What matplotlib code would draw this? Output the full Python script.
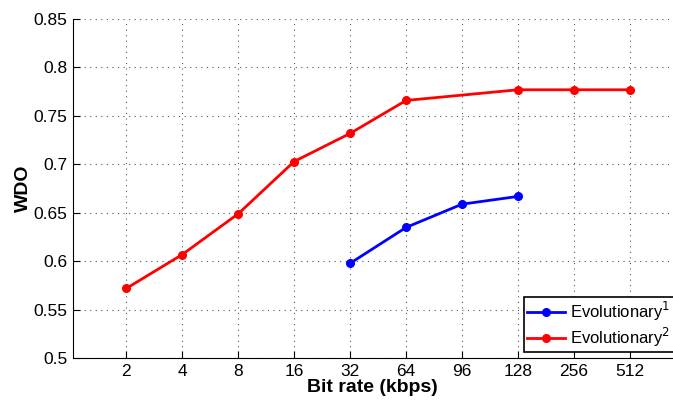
import numpy as np
import matplotlib.pyplot as plt

plt.rcParams['font.family'] = ['Liberation Sans', 'DejaVu Sans']

rates = ['2', '4', '8', '16', '32', '64', '96', '128', '256', '512']

evo1_rates = ['32', '64', '96', '128']
evo1_wdo = [0.598, 0.635, 0.659, 0.667]

evo2_rates = ['2', '4', '8', '16', '32', '64', '128', '256', '512']
evo2_wdo = [0.572, 0.607, 0.649, 0.703, 0.732, 0.766, 0.777, 0.777, 0.777]


def main():
    fig = plt.figure(figsize=(6.73, 4.01), dpi=100)
    ax = fig.add_axes([0.1085, 0.1065, 0.8900, 0.8461])

    pos = {r: i + 1 for i, r in enumerate(rates)}
    x1 = [pos[r] for r in evo1_rates]
    x2 = [pos[r] for r in evo2_rates]

    ax.plot(x1, evo1_wdo, '-o', color='#0000ff', lw=2, ms=5.5, label='Evolutionary$^1$')
    ax.plot(x2, evo2_wdo, '-o', color='#ff0000', lw=2, ms=5.5, label='Evolutionary$^2$')

    ax.set_xlim(0.05, 10.75)
    ax.set_ylim(0.5, 0.85)
    ax.set_xticks(range(1, len(rates) + 1))
    ax.set_xticklabels(rates)
    ax.set_yticks(np.arange(0.5, 0.851, 0.05))
    ax.set_yticklabels(['0.5', '0.55', '0.6', '0.65', '0.7', '0.75', '0.8', '0.85'])
    ax.tick_params(direction='in', labelsize=12.5, length=5, width=0.8, pad=4)

    ax.grid(True, linestyle=(0, (1, 4)), color='#555555', lw=0.8)
    ax.spines['top'].set_visible(False)
    ax.spines['right'].set_visible(False)

    ax.set_xlabel('Bit rate (kbps)', fontsize=14, fontweight='bold', labelpad=0)
    ax.set_ylabel('WDO', fontsize=14, fontweight='bold', labelpad=1)

    leg = ax.legend(loc='lower right', bbox_to_anchor=(1.003, 0.018), fontsize=12,
                    fancybox=False, framealpha=1, edgecolor='black', borderaxespad=0,
                    handlelength=2.3, borderpad=0.2, labelspacing=0.15, handletextpad=0.3)
    leg.get_frame().set_linewidth(1.2)

    fig.savefig('out.png', dpi=100)


if __name__ == "__main__":
    main()
